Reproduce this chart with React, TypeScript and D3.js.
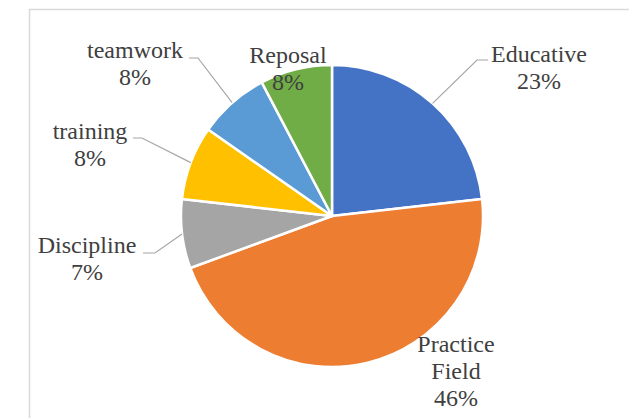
import React from "react";
import * as d3 from "d3";

const categories = ["Educative", "Practice Field", "Discipline", "training", "teamwork", "Reposal"];
const values = [23.2, 46.2, 7.4, 7.9, 7.6, 7.7];
const colors = ["#4472C4", "#ED7D31", "#A5A5A5", "#FFC000", "#5B9BD5", "#70AD47"];
const labelLines = [["Educative"], ["Practice", "Field"], ["Discipline"], ["training"], ["teamwork"], ["Reposal"]];

// layout (label centre x, first baseline y, leader elbow/attach)
const labelLayout = [
  { x: 539, y: 62, leader: [[477, 60], [488, 60]] },
  { x: 456, y: 352, leader: null },
  { x: 87, y: 253, leader: [[155, 253], [143, 253]] },
  { x: 90, y: 139, leader: [[142, 138], [133, 138]] },
  { x: 135, y: 58, leader: [[198, 58], [189, 58]] },
  { x: 288, y: 63, leader: null },
];

export default function App() {
  const W = 629, H = 418;
  const cx = 332, cy = 216, r = 151;
  const total = d3.sum(values);
  const pie = d3.pie<number>().value((d) => d).sort(null);
  const arcs = pie(values);
  const arcGen = d3.arc<d3.PieArcDatum<number>>().innerRadius(0).outerRadius(r);
  const lh = 27;
  return (
    <svg width={W} height={H} style={{ position: "absolute", left: 0, top: 0, background: "#fff" }}>
      <rect x={29.5} y={9.5} width={620} height={430} fill="none" stroke="#D9D9D9" strokeWidth={1.5} />
      <g transform={`translate(${cx},${cy})`}>
        {arcs.map((a, i) => (
          <path key={i} d={arcGen(a) || ""} fill={colors[i]} stroke="#fff" strokeWidth={2.5} strokeLinejoin="round" />
        ))}
      </g>
      {arcs.map((a, i) => {
        const L = labelLayout[i];
        if (!L.leader) return null;
        const mid = (a.startAngle + a.endAngle) / 2;
        const p0: [number, number] = [cx + r * Math.sin(mid), cy - r * Math.cos(mid)];
        const pts = [p0, ...(L.leader as [number, number][])];
        return (
          <path key={"l" + i} d={d3.line()(pts) || ""} fill="none" stroke="#A6A6A6" strokeWidth={1.2} />
        );
      })}
      {categories.map((c, i) => {
        const L = labelLayout[i];
        const lines = [...labelLines[i], `${Math.round((values[i] / total) * 100)}%`];
        return (
          <text key={"t" + i} textAnchor="middle" fontSize={24} fill="#404040"
            style={{ fontFamily: '"Liberation Serif", "DejaVu Serif", serif', fontSize: 24 }}>
            {lines.map((s, j) => (
              <tspan key={j} x={L.x} y={L.y + j * lh}>{s}</tspan>
            ))}
          </text>
        );
      })}
    </svg>
  );
}
